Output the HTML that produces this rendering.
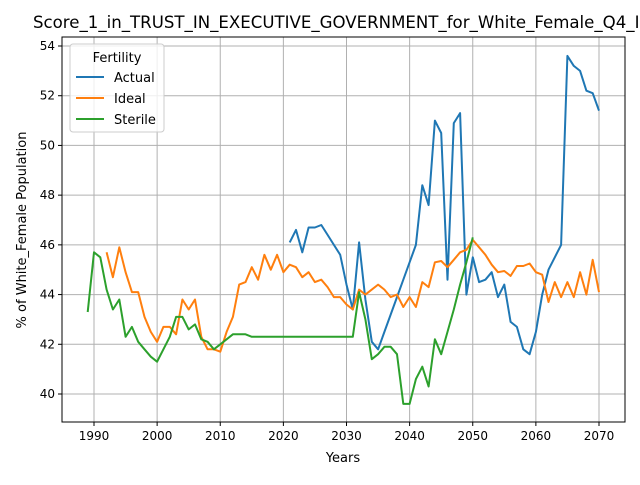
<!DOCTYPE html>
<html><head><meta charset="utf-8"><style>
body{margin:0;background:#fff;font-family:"Liberation Sans","DejaVu Sans",sans-serif;overflow:hidden;}
svg text{font-family:"DejaVu Sans","Liberation Sans",sans-serif;}
</style></head><body>
<svg id="chart" width="640" height="480" xmlns="http://www.w3.org/2000/svg">
<rect width="640" height="480" fill="#fff"/>
<g id="grid"></g>
<g id="series"></g>
<rect x="62" y="37" width="563" height="385" fill="none" stroke="#000" stroke-width="1"/>
<g id="ticks"></g>
<text x="33" y="28" font-size="16.6">Score_1_in_TRUST_IN_EXECUTIVE_GOVERNMENT_for_White_Female_Q4_I</text>
<text x="343" y="462" font-size="13" text-anchor="middle">Years</text>
<text transform="translate(26,230) rotate(-90)" font-size="13" text-anchor="middle">% of White_Female Population</text>
<g>
<rect x="70" y="44" width="94" height="88" rx="3" fill="#fff" fill-opacity="0.8" stroke="#ccc"/>
<text x="117" y="62" font-size="13" text-anchor="middle">Fertility</text>
<line x1="76" y1="77" x2="104" y2="77" stroke="#1f77b4" stroke-width="2"/>
<text x="114" y="82" font-size="13">Actual</text>
<line x1="76" y1="98" x2="104" y2="98" stroke="#ff7f0e" stroke-width="2"/>
<text x="114" y="103" font-size="13">Ideal</text>
<line x1="76" y1="119" x2="104" y2="119" stroke="#2ca02c" stroke-width="2"/>
<text x="114" y="124" font-size="13">Sterile</text>
</g>
</svg>
<script>
const xTicks=[1990,2000,2010,2020,2030,2040,2050,2060,2070];
const yTicks=[40,42,44,46,48,50,52,54];
const actualStart=2021;
const actualValues=[46.1,46.6,45.7,46.7,46.7,46.8,46.4,46.0,45.6,44.4,43.4,46.1,43.8,42.1,41.8,42.5,43.2,43.9,44.6,45.3,46.0,48.4,47.6,51.0,50.5,44.6,50.9,51.3,44.0,45.5,44.5,44.6,44.9,43.9,44.4,42.9,42.7,41.8,41.6,42.5,44.0,45.0,45.5,46.0,53.6,53.2,53.0,52.2,52.1,51.4];
const idealStart=1992;
const idealValues=[45.7,44.7,45.9,44.9,44.1,44.1,43.1,42.5,42.1,42.7,42.7,42.4,43.8,43.4,43.8,42.3,41.8,41.8,41.7,42.5,43.1,44.4,44.5,45.1,44.6,45.6,45.0,45.6,44.9,45.2,45.1,44.7,44.9,44.5,44.6,44.3,43.9,43.9,43.6,43.4,44.2,44.0,44.2,44.4,44.2,43.9,44.0,43.5,43.9,43.5,44.5,44.3,45.3,45.35,45.1,45.4,45.7,45.8,46.2,45.9,45.6,45.2,44.9,44.95,44.75,45.15,45.15,45.25,44.9,44.8,43.7,44.5,43.9,44.5,43.9,44.9,44.0,45.4,44.1];
const sterileStart=1989;
const sterileValues=[43.3,45.7,45.5,44.2,43.4,43.8,42.3,42.7,42.1,41.8,41.5,41.3,41.8,42.3,43.1,43.1,42.6,42.8,42.2,42.1,41.8,42.0,42.2,42.4,42.4,42.4,42.3,42.3,42.3,42.3,42.3,42.3,42.3,42.3,42.3,42.3,42.3,42.3,42.3,42.3,42.3,42.3,42.3,44.1,43.0,41.4,41.6,41.9,41.9,41.6,39.6,39.6,40.6,41.1,40.3,42.2,41.6,42.5,43.4,44.4,45.3,46.3];
const X=v=>94+(v-1990)*6.3125;
const Y=v=>46+(54-v)*24.857;
const NS="http://www.w3.org/2000/svg";
const grid=document.getElementById('grid'),ticks=document.getElementById('ticks'),ser=document.getElementById('series');
function mk(tag,attrs,parent){const e=document.createElementNS(NS,tag);for(const k in attrs)e.setAttribute(k,attrs[k]);parent.appendChild(e);return e;}
xTicks.forEach(t=>{
  const g=mk('line',{x1:X(t),x2:X(t),y1:37,y2:422,stroke:'#b0b0b0','stroke-width':1},grid);
  
  
  mk('line',{x1:X(t),x2:X(t),y1:422,y2:426,stroke:'#000'},ticks);
  const l=mk('text',{x:X(t),y:440,'font-size':12,'text-anchor':'middle'},ticks);
  l.textContent=t;
  
  
});
yTicks.forEach(t=>{
  const g=mk('line',{x1:62,x2:625,y1:Y(t),y2:Y(t),stroke:'#b0b0b0','stroke-width':1},grid);
  
  
  mk('line',{x1:58,x2:62,y1:Y(t),y2:Y(t),stroke:'#000'},ticks);
  const l=mk('text',{x:55,y:Y(t)+4,'font-size':12,'text-anchor':'end'},ticks);
  l.textContent=t;
  
  
});
function line(start,vals,color,name){
  const pts=vals.map((v,i)=>X(start+i).toFixed(1)+','+Y(v).toFixed(1)).join(' ');
  const p=mk('polyline',{points:pts,fill:'none',stroke:color,'stroke-width':2,'stroke-linejoin':'round'},ser);
  
  
}
line(actualStart,actualValues,'#1f77b4','actual-line');
line(idealStart,idealValues,'#ff7f0e','ideal-line');
line(sterileStart,sterileValues,'#2ca02c','sterile-line');
</script>
</body></html>
